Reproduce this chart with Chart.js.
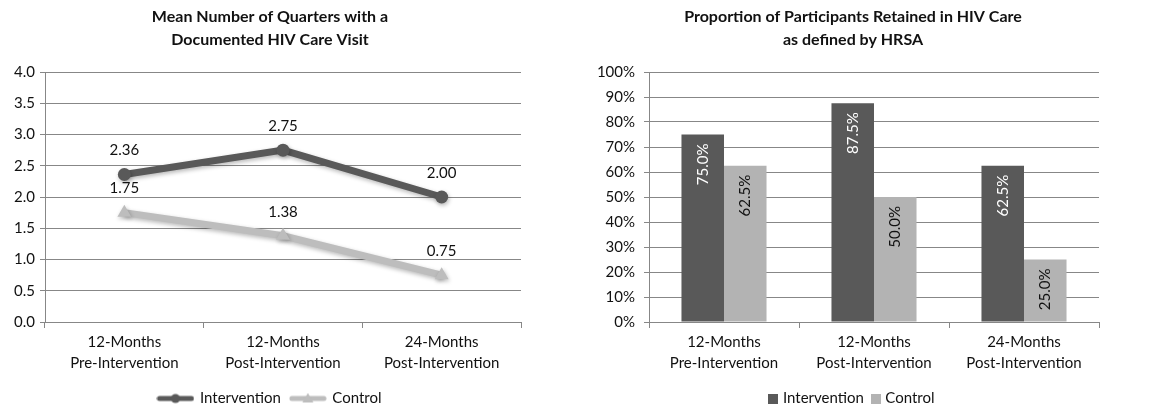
<!DOCTYPE html>
<html>
<head>
<meta charset="utf-8">
<script src="https://cdn.jsdelivr.net/npm/chart.js@4/dist/chart.umd.min.js"></script>
<style>
  html, body { margin: 0; padding: 0; background: #fff; overflow: hidden; }
  #wrap { position: relative; width: 1151px; height: 411px; }
  .box { position: absolute; top: 0; height: 411px; }
  #leftBox { left: 0; width: 540px; }
  #rightBox { left: 555px; width: 596px; }
</style>
</head>
<body>
<div id="wrap">
  <div class="box" id="leftBox"><canvas id="quarters"></canvas></div>
  <div class="box" id="rightBox"><canvas id="retained"></canvas></div>
</div>
<script>
// Time points shared by both panels
const periods = [
  ['12-Months', 'Pre-Intervention'],
  ['12-Months', 'Post-Intervention'],
  ['24-Months', 'Post-Intervention']
];

// Mean number of quarters with a documented HIV care visit
const quartersIntervention = [2.36, 2.75, 2.00];
const quartersControl = [1.75, 1.38, 0.75];
const quartersTicks = [0, 0.5, 1, 1.5, 2, 2.5, 3, 3.5, 4];

// Proportion retained in HIV care (percent)
const retainedIntervention = [75.0, 87.5, 62.5];
const retainedControl = [62.5, 50.0, 25.0];
const retainedTicks = [0, 10, 20, 30, 40, 50, 60, 70, 80, 90, 100];

const seriesNames = ['Intervention', 'Control'];

const DARK = '#595959';
const LIGHT_LINE = '#bdbdbd';
const LIGHT_BAR = '#b3b3b3';
const GRID = '#878787';
const TEXT = '#111111';
const FONT = 'Lato, "Open Sans", "DejaVu Sans", sans-serif';

Chart.defaults.font.family = FONT;
Chart.defaults.color = TEXT;

// Small legend swatches: a line with its marker, or a square
function lineSwatch(color, marker) {
  const c = document.createElement('canvas');
  c.width = 38; c.height = 12;
  const g = c.getContext('2d');
  g.strokeStyle = color; g.lineWidth = 5; g.lineCap = 'round';
  g.beginPath(); g.moveTo(3, 6); g.lineTo(35, 6); g.stroke();
  g.fillStyle = color;
  g.beginPath();
  if (marker === 'circle') {
    g.arc(19, 6, 4.5, 0, Math.PI * 2);
  } else {
    g.moveTo(19, 0.5); g.lineTo(24.5, 10); g.lineTo(13.5, 10); g.closePath();
  }
  g.fill();
  return c;
}
function squareSwatch(color) {
  const c = document.createElement('canvas');
  c.width = 10; c.height = 10;
  const g = c.getContext('2d');
  g.fillStyle = color; g.fillRect(0, 0, 10, 10);
  return c;
}

// Centre the title and legend across the whole canvas, not just the padded box
const fullWidthHeader = {
  id: 'fullWidthHeader',
  afterLayout(chart) {
    const w = chart.width;
    [chart.titleBlock, chart.legend].forEach(b => {
      if (!b) return;
      b.left = 0; b.right = w; b.width = w;
    });
  }
};

// Soft drop shadow under each line series
const lineShadow = {
  id: 'lineShadow',
  beforeDatasetDraw(chart) {
    const ctx = chart.ctx;
    ctx.save();
    ctx.shadowColor = 'rgba(0,0,0,0.28)';
    ctx.shadowBlur = 4;
    ctx.shadowOffsetX = 1;
    ctx.shadowOffsetY = 2;
  },
  afterDatasetDraw(chart) { chart.ctx.restore(); }
};

// Value labels above each line point
const pointValues = {
  id: 'pointValues',
  afterDatasetsDraw(chart) {
    const ctx = chart.ctx;
    ctx.save();
    ctx.font = '15px ' + FONT;
    ctx.fillStyle = TEXT;
    ctx.textAlign = 'center';
    ctx.textBaseline = 'middle';
    chart.data.datasets.forEach((ds, i) => {
      chart.getDatasetMeta(i).data.forEach((pt, j) => {
        ctx.fillText(ds.data[j].toFixed(2), pt.x, pt.y - 24);
      });
    });
    ctx.restore();
  }
};

// Rotated value labels inside the top of each bar
const barValues = {
  id: 'barValues',
  afterDatasetsDraw(chart) {
    const ctx = chart.ctx;
    ctx.save();
    ctx.font = '15px ' + FONT;
    ctx.textAlign = 'right';
    ctx.textBaseline = 'middle';
    chart.data.datasets.forEach((ds, i) => {
      ctx.fillStyle = i === 0 ? '#ffffff' : TEXT;
      chart.getDatasetMeta(i).data.forEach((bar, j) => {
        ctx.save();
        ctx.translate(bar.x, bar.y + 9);
        ctx.rotate(-Math.PI / 2);
        ctx.fillText(ds.data[j].toFixed(1) + '%', 0, 0);
        ctx.restore();
      });
    });
    ctx.restore();
  }
};

function titleOpts(lines) {
  return {
    display: true,
    text: lines,
    color: TEXT,
    font: { size: 16, weight: 'bold', lineHeight: '23px' },
    padding: { top: 5.5, bottom: 20.5 }
  };
}

function xScale() {
  return {
    type: 'category',
    offset: true,
    afterFit(s) { s.height = 59; },
    grid: { offset: true, drawOnChartArea: false, drawTicks: true, tickLength: 6, color: GRID },
    border: { display: true, color: GRID, width: 1 },
    ticks: { font: { size: 15, lineHeight: 1.4 }, color: TEXT, padding: 4, maxRotation: 0, autoSkip: false }
  };
}

// Left panel: mean quarters with a care visit
new Chart(document.getElementById('quarters'), {
  type: 'line',
  data: {
    labels: periods,
    datasets: [
      {
        label: seriesNames[0],
        data: quartersIntervention,
        borderColor: DARK, backgroundColor: DARK,
        borderWidth: 7, pointStyle: 'circle', pointRadius: 6.5,
        pointBorderWidth: 0, pointHoverRadius: 6.5, tension: 0
      },
      {
        label: seriesNames[1],
        data: quartersControl,
        borderColor: LIGHT_LINE, backgroundColor: LIGHT_LINE,
        borderWidth: 7, pointStyle: 'triangle', pointRadius: 8,
        pointBorderWidth: 0, pointHoverRadius: 8, tension: 0
      }
    ]
  },
  options: {
    responsive: true, maintainAspectRatio: false, animation: false,
    layout: { padding: { left: 0, right: 19, top: 0, bottom: -5 } },
    scales: {
      x: xScale(),
      y: {
        min: 0, max: 4,
        afterFit(s) { s.width = 45; },
        afterBuildTicks(s) { s.ticks = quartersTicks.map(v => ({ value: v })); },
        grid: { color: GRID, tickLength: 5, drawTicks: true },
        border: { display: true, color: GRID },
        ticks: { font: { size: 15 }, color: TEXT, padding: 5, callback: v => Number(v).toFixed(1) }
      }
    },
    plugins: {
      title: titleOpts(['Mean Number of Quarters with a', 'Documented HIV Care Visit']),
      tooltip: { enabled: false },
      legend: {
        position: 'bottom',
        labels: {
          usePointStyle: true, pointStyleWidth: 34, padding: 10,
          font: { size: 15 }, color: TEXT,
          generateLabels(chart) {
            return chart.data.datasets.map((ds, i) => ({
              text: ds.label, datasetIndex: i, hidden: false,
              fontColor: TEXT, lineWidth: 0,
              pointStyle: lineSwatch(ds.borderColor, i === 0 ? 'circle' : 'triangle')
            }));
          }
        }
      }
    }
  },
  plugins: [fullWidthHeader, lineShadow, pointValues]
});

// Right panel: proportion retained in care
new Chart(document.getElementById('retained'), {
  type: 'bar',
  data: {
    labels: periods,
    datasets: [
      { label: seriesNames[0], data: retainedIntervention, backgroundColor: DARK, borderWidth: 0 },
      { label: seriesNames[1], data: retainedControl, backgroundColor: LIGHT_BAR, borderWidth: 0 }
    ]
  },
  options: {
    responsive: true, maintainAspectRatio: false, animation: false,
    layout: { padding: { left: 0, right: 52, top: 0, bottom: -5 } },
    datasets: { bar: { categoryPercentage: 0.567, barPercentage: 1.0 } },
    scales: {
      x: xScale(),
      y: {
        min: 0, max: 100,
        afterFit(s) { s.width = 94; },
        afterBuildTicks(s) { s.ticks = retainedTicks.map(v => ({ value: v })); },
        grid: { color: GRID, tickLength: 5, drawTicks: true },
        border: { display: true, color: GRID },
        ticks: { font: { size: 15 }, color: TEXT, padding: 9, callback: v => v + '%' }
      }
    },
    plugins: {
      title: titleOpts(['Proportion of Participants Retained in HIV Care', 'as defined by HRSA']),
      tooltip: { enabled: false },
      legend: {
        position: 'bottom',
        labels: {
          usePointStyle: true, pointStyleWidth: 4, padding: 10,
          font: { size: 15 }, color: TEXT,
          generateLabels(chart) {
            return chart.data.datasets.map((ds, i) => ({
              text: ds.label, datasetIndex: i, hidden: false,
              fontColor: TEXT, lineWidth: 0,
              pointStyle: squareSwatch(ds.backgroundColor)
            }));
          }
        }
      }
    }
  },
  plugins: [fullWidthHeader, barValues]
});
</script>
</body>
</html>
